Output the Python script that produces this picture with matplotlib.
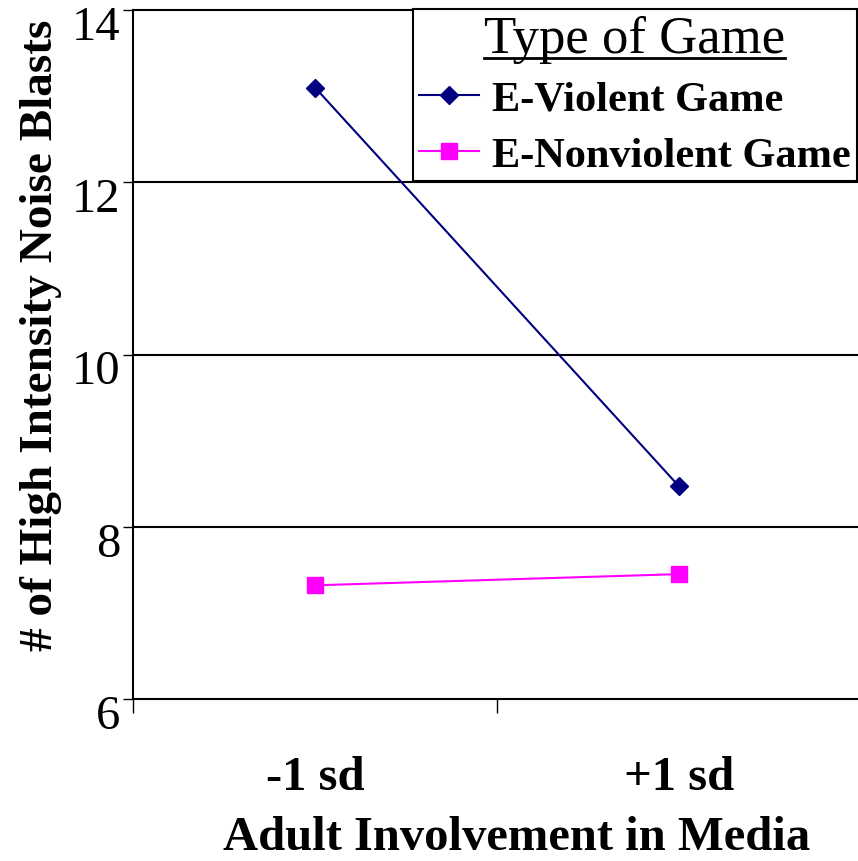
import matplotlib
matplotlib.use('Agg')
import matplotlib.pyplot as plt
import matplotlib.transforms as mtransforms
from matplotlib.lines import Line2D

# values
groups = ['-1 sd', '+1 sd']
violent = [13.1, 8.47]
nonviolent = [7.32, 7.45]
series_names = ['E-Violent Game', 'E-Nonviolent Game']
yticks = [6, 8, 10, 12, 14]

plt.rcParams['font.family'] = ['Liberation Serif', 'DejaVu Serif']

fig = plt.figure(figsize=(8.58, 8.62), dpi=100)
ax = fig.add_axes([133 / 858, 162 / 862, 728 / 858, 689 / 862])

x = [0.5, 1.5]
ax.plot(x, violent, color='#000080', linewidth=1.5, marker='D', markersize=9.5,
        label=series_names[0], clip_on=False)
ax.plot(x, nonviolent, color='#FF00FF', linewidth=1.5, marker='s', markersize=12,
        label=series_names[1], clip_on=False)

ax.set_xlim(0, 2)
ax.set_ylim(6, 14)
ax.set_yticks(yticks)
ax.set_yticklabels([str(v) for v in yticks], fontsize=35)
for v in yticks[1:]:
    ax.axhline(v, color='black', linewidth=1.5, zorder=0, clip_on=False)

ax.set_xticks([0, 1, 2])
ax.set_xticklabels(['', '', ''])
ax.set_xticks(x, minor=True)
ax.set_xticklabels(groups, minor=True, fontsize=35, fontweight='bold')
ax.tick_params(axis='x', which='major', direction='out', length=10, width=1)
ax.tick_params(axis='x', which='minor', length=0, pad=40)
ax.tick_params(axis='y', direction='out', length=7, width=1, pad=2)

# tick labels sit a little below their ticks in the reference
shift = mtransforms.ScaledTranslation(0, -12 / 100, fig.dpi_scale_trans)
for lab in ax.get_yticklabels():
    lab.set_transform(lab.get_transform() + shift)

for s in ['left', 'bottom']:
    ax.spines[s].set_linewidth(1.5)
ax.spines['top'].set_visible(False)
ax.spines['right'].set_visible(False)

ax.set_xlabel('Adult Involvement in Media', fontsize=35, fontweight='bold')
ax.xaxis.set_label_coords((517 - 133) / 728, (700 - 816) / 689)
ax.set_ylabel('# of High Intensity Noise Blasts', fontsize=34, fontweight='bold')
ax.yaxis.set_label_coords((62 - 133) / 728, (700 - 335) / 689)

handles = [Line2D([], [], color='#000080', linewidth=1.5, marker='D', markersize=9.5),
           Line2D([], [], color='#FF00FF', linewidth=1.5, marker='s', markersize=12)]
leg = ax.legend(handles, series_names, loc='upper right',
                bbox_to_anchor=(857 / 858, 852 / 862), bbox_transform=fig.transFigure,
                title='Type of Game', fancybox=False, framealpha=1,
                edgecolor='black', handlelength=1.42, handletextpad=0.3,
                borderpad=0.15, labelspacing=0.4, borderaxespad=0,
                prop={'size': 30.5, 'weight': 'bold'}, title_fontsize=38)
leg.get_frame().set_linewidth(1.5)

# underline the legend title
fig.canvas.draw()
tb = leg.get_title().get_window_extent()
inv = fig.transFigure.inverted()
(x0, y0), (x1, _) = inv.transform([[tb.x0, tb.y0], [tb.x1, tb.y1]])
fig.add_artist(Line2D([x0, x1], [y0 + 0.006, y0 + 0.006], color='black',
                      linewidth=2, transform=fig.transFigure))

fig.savefig('out.png', dpi=100)
